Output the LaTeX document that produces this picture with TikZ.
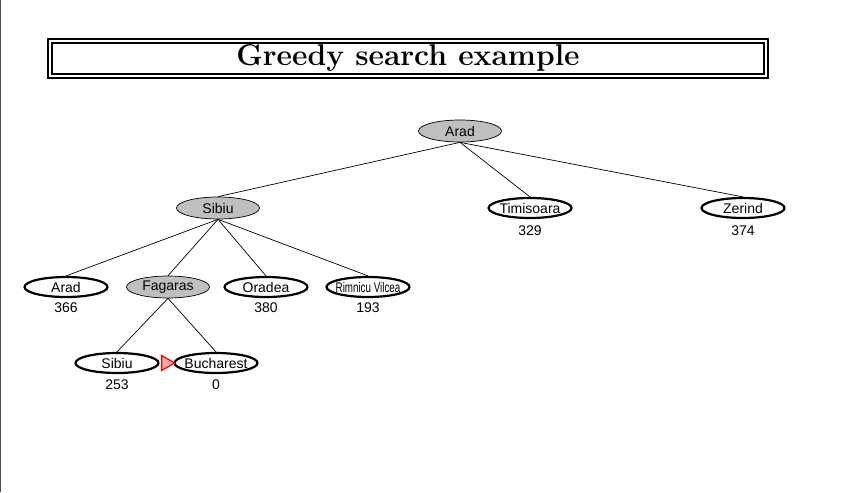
\documentclass[tikz,border=0pt]{standalone}
\usepackage{fontspec}
\newfontfamily\arial{Liberation Sans}
\usetikzlibrary{shapes.geometric}
\newcommand{\nlab}[1]{\makebox[0pt]{#1}}
\tikzset{
  base/.style={ellipse, minimum width=83pt, minimum height=22pt, inner sep=0pt, font=\arial\fontsize{14}{16}\selectfont},
  open/.style={base, draw=black, line width=2.2pt, fill=white, minimum height=20pt},
  done/.style={base, draw=black, line width=0.7pt, fill=black!25},
  hval/.style={font=\arial\fontsize{14}{16}\selectfont, inner sep=0pt},
  edge/.style={draw=black, line width=0.7pt},
}
\begin{document}
\begin{tikzpicture}[x=1pt,y=-1pt]
\useasboundingbox (0,0) rectangle (858,492);
\draw[black!70, line width=1.2pt] (0.6,0) -- (0.6,492);
% title
\draw[line width=2pt] (48,39) rectangle (768,78);
\draw[line width=1.3pt] (52,43) rectangle (764,74);
\node[font=\fontsize{30}{34}\selectfont\bfseries, inner sep=0pt] (title) at (408,58) {Greedy search example};
% nodes
\node[done] (arad) at (460,131) {\nlab{Arad}};
\node[done] (sibiu) at (218,208) {\nlab{Sibiu}};
\node[open] (timi) at (530,208) {\nlab{Timisoara}};
\node[open] (zerind) at (743,208) {\nlab{Zerind}};
\node[hval] (h329) at (530,231) {329};
\node[hval] (h374) at (743,231) {374};
\node[open] (arad2) at (66,287) {\nlab{Arad}};
\node[done] (fagaras) at (168,287) {\nlab{Fagaras}};
\node[open] (oradea) at (266,287) {\nlab{Oradea}};
\node[open] (rimnicu) at (368,287) {\nlab{\scalebox{0.7}[1]{Rimnicu Vilcea}}};
\node[hval] (h366) at (66,308) {366};
\node[hval] (h380) at (266,308) {380};
\node[hval] (h193) at (368,308) {193};
\node[open] (sibiu2) at (117,363) {\nlab{Sibiu}};
\node[open] (buch) at (216,363) {\nlab{Bucharest}};
\node[hval] (h253) at (117,385) {253};
\node[hval] (h0) at (216,385) {0};
\node[isosceles triangle, isosceles triangle apex angle=60, draw=red, fill=red!35, line width=1.2pt, minimum height=12pt, minimum width=15pt, inner sep=0pt] (goal) at (166,363) {};
% edges
\draw[edge] (arad.south) -- (sibiu.north);
\draw[edge] (arad.south) -- (timi.north);
\draw[edge] (arad.south) -- (zerind.north);
\draw[edge] (sibiu.south) -- (arad2.north);
\draw[edge] (sibiu.south) -- (fagaras.north);
\draw[edge] (sibiu.south) -- (oradea.north);
\draw[edge] (sibiu.south) -- (rimnicu.north);
\draw[edge] (fagaras.south) -- (sibiu2.north);
\draw[edge] (fagaras.south) -- (buch.north);
\end{tikzpicture}
\end{document}
